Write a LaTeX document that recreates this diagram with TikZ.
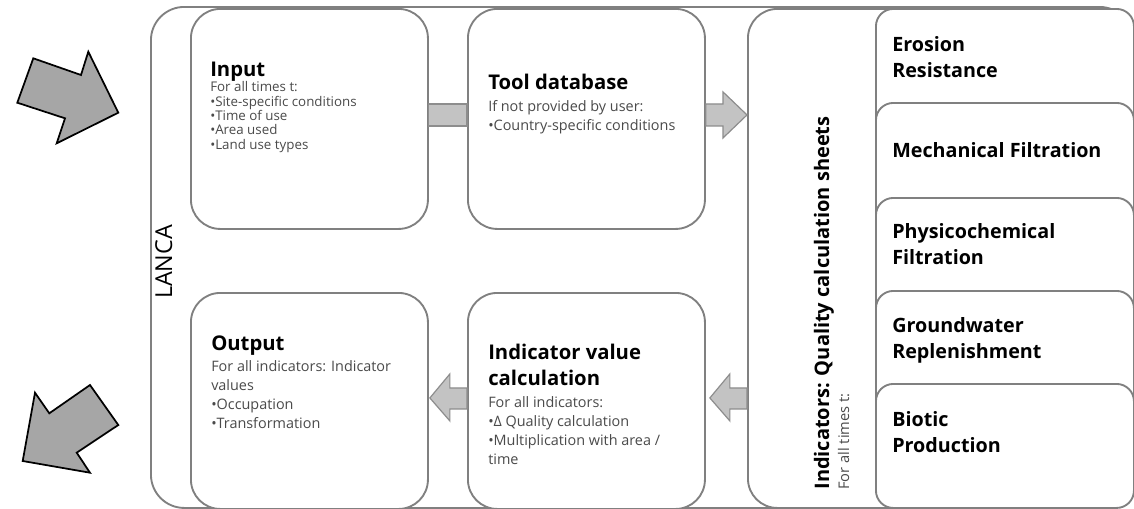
\documentclass[tikz,border=0pt]{standalone}
\usepackage{fontspec}
\setmainfont{Open Sans}
\usetikzlibrary{calc}
\newlength\unitpx
\setlength\unitpx{0.75pt}
\definecolor{framegray}{HTML}{808080}
\definecolor{arrowgray}{HTML}{C3C3C3}
\definecolor{bigarrowgray}{HTML}{A6A6A6}
\definecolor{bodygray}{HTML}{4A4A4A}

\begin{document}
\begin{tikzpicture}[x=0.75pt, y=-0.75pt,
    box/.style={draw=framegray, line width=1.4pt, fill=white, rounded corners=22pt, anchor=north west, inner sep=0pt, minimum width=237\unitpx, minimum height=220\unitpx},
    card/.style={box, rounded corners=13pt, minimum width=258\unitpx},
    title/.style={anchor=base west, align=left, inner sep=0pt, font=\fontsize{15.2}{19.5}\selectfont\bfseries},
    cardtitle/.style={title, font=\fontsize{14.8}{19}\selectfont\bfseries},
    smallbody/.style={anchor=base west, align=left, inner sep=0pt, text=bodygray, font=\fontsize{10}{10.7}\selectfont},
    body/.style={smallbody, font=\fontsize{10.8}{14.2}\selectfont},
    bar/.style={draw=framegray!90, line width=0.9pt, fill=arrowgray},
    fatarrow/.style={bar, line join=miter},
    bigarrow/.style={draw=black, line width=1.3pt, fill=bigarrowgray, line join=miter}]
    \useasboundingbox (0,0) rectangle (1134,508);

    \draw[bigarrow] (33.3,58.3) -- (81,75) -- (88.3,51.7) -- (118.3,112.7) -- (56.7,143.3) -- (65,118.3) -- (17.3,102.7) -- cycle;
    \draw[bigarrow] (90,385) -- (118.3,425) -- (76.7,452.7) -- (90,472.7) -- (22.7,461) -- (35,392.7) -- (49.3,413.3) -- cycle;

    \node[box, rounded corners=25pt, minimum width=982\unitpx, minimum height=501\unitpx] (lanca) at (150,6) {};
    \node[rotate=90, anchor=base, inner sep=0pt, font=\fontsize{17.5}{19}\selectfont] (lancatxt) at (172,262) {LANCA};

    \node[box] (input) at (190,8) {};
    \node[box] (tooldb) at (467,8) {};
    \node[box, minimum height=216\unitpx] (output) at (190,292) {};
    \node[box, minimum height=216\unitpx] (calc) at (467,292) {};
    \node[box, minimum width=300\unitpx, minimum height=499\unitpx] (indic) at (747,8) {};

    \node[card, minimum height=134\unitpx] (erosion) at (875,8) {};
    \node[card, minimum height=135\unitpx] (mech) at (875,102) {};
    \node[card, minimum height=133\unitpx] (phys) at (875,197) {};
    \node[card, minimum height=133\unitpx] (ground) at (875,290) {};
    \node[card, minimum height=124\unitpx] (biotic) at (875,383) {};

    \node[title] (inputhead) at ([shift={(20,68)}]input.north west) {Input};
    \node[smallbody] (inputbody) at ([shift={(20,141)}]input.north west) {For all times t:\\•Site-specific conditions\\•Time of use\\•Area used\\•Land use types};

    \node[title] (toolhead) at ([shift={(21,81)}]tooldb.north west) {Tool database};
    \node[body] (toolbody) at ([shift={(21,122)}]tooldb.north west) {If not provided by user:\\•Country-specific conditions};

    \node[title] (outputhead) at ([shift={(21,58)}]output.north west) {Output};
    \node[body] (outputbody) at ([shift={(21,136)}]output.north west) {For all indicators: Indicator\\values\\•Occupation\\•Transformation};

    \node[title] (calchead) at ([shift={(21,93)}]calc.north west) {Indicator value\\calculation};
    \node[body] (calcbody) at ([shift={(21,172)}]calc.north west) {For all indicators:\\•Δ Quality calculation\\•Multiplication with area /\\time};

    \node[title, rotate=90, font=\fontsize{15}{17}\selectfont\bfseries] (indichead) at ([shift={(82,-19)}]indic.south west) {Indicators: Quality calculation sheets};
    \node[body, rotate=90, font=\fontsize{11}{13}\selectfont] (indicbody) at ([shift={(102,-19)}]indic.south west) {For all times t:};

    \node[cardtitle] (erosiontxt) at ([shift={(17,69)}]erosion.north west) {Erosion\\Resistance};
    \node[cardtitle] (mechtxt) at ([shift={(17,55)}]mech.north west) {Mechanical Filtration};
    \node[cardtitle] (phystxt) at ([shift={(17,67)}]phys.north west) {Physicochemical\\Filtration};
    \node[cardtitle] (groundtxt) at ([shift={(17,68)}]ground.north west) {Groundwater\\Replenishment};
    \node[cardtitle] (biotictxt) at ([shift={(17,69)}]biotic.north west) {Biotic\\Production};

    \draw[bar] ([shift={(0,-15)}]input.east) rectangle ([shift={(0,7)}]tooldb.west);

    \coordinate (tip1) at (tooldb.east -| indic.west);
    \draw[fatarrow] ([shift={(0,-15)}]tooldb.east) -- ([shift={(-24,-15)}]tip1) -- ([shift={(-24,-27)}]tip1) -- ([shift={(0,-4)}]tip1) -- ([shift={(-24,19)}]tip1) -- ([shift={(-24,7)}]tip1) -- ([shift={(0,7)}]tooldb.east) -- cycle;

    \coordinate (root2) at (calc.east -| indic.west);
    \draw[fatarrow] ([shift={(0,-13)}]root2) -- ([shift={(24,-13)}]calc.east) -- ([shift={(24,-27)}]calc.east) -- ([shift={(4,-3)}]calc.east) -- ([shift={(24,20)}]calc.east) -- ([shift={(24,8)}]calc.east) -- ([shift={(0,8)}]root2) -- cycle;

    \draw[fatarrow] ([shift={(0,-13)}]calc.west) -- ([shift={(21,-13)}]output.east) -- ([shift={(21,-27)}]output.east) -- ([shift={(1,-3)}]output.east) -- ([shift={(21,20)}]output.east) -- ([shift={(21,8)}]output.east) -- ([shift={(0,8)}]calc.west) -- cycle;
\end{tikzpicture}
\end{document}
